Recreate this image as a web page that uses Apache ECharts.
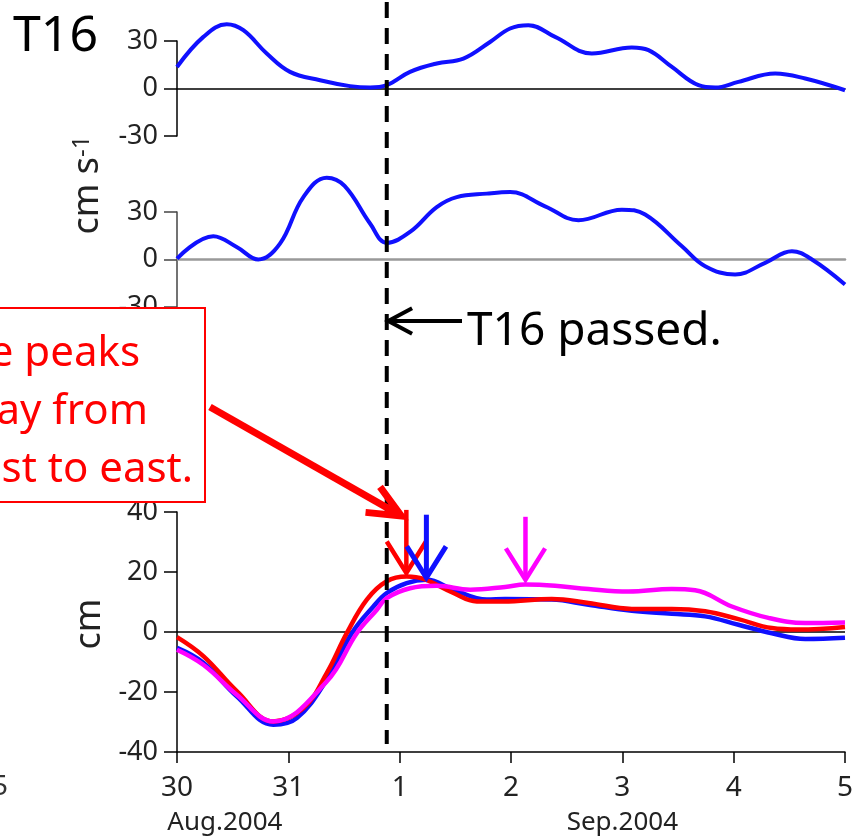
<!DOCTYPE html>
<html><head><meta charset="utf-8">
<script src="https://cdn.jsdelivr.net/npm/echarts@6/dist/echarts.min.js"></script>
<style>html,body{margin:0;padding:0;background:#fff}#c{width:864px;height:840px}</style>
</head><body><div id="c"></div>
<script>
// ---------- data ----------
const xTickLabels = ['30','31','1','2','3','4','5'];
const monthLabels = ['Aug.2004','Sep.2004'];

// top panel (cm s-1), days since Aug 30 00:00
const uDays = [0,0.237,0.447,0.596,0.806,1.015,1.285,1.554,1.734,1.884,2.093,2.333,2.572,2.812,2.992,3.156,3.396,3.726,4.085,4.235,4.445,4.684,4.834,5.043,5.373,5.643,6.0];
const uVals = [13.6,32.6,40.6,36.8,22.1,10.5,5.2,1.5,0.6,2.1,10.5,15.8,18.9,29.4,37.9,40,32.6,22.1,25.9,24.2,13.6,2.1,0.6,4.2,9.5,6.3,-1.1];

// middle panel (cm s-1)
const vDays = [0,0.326,0.536,0.730,0.925,1.135,1.345,1.505,1.734,1.884,2.093,2.333,2.513,2.783,2.992,3.306,3.606,3.996,4.205,4.535,4.744,5.013,5.283,5.523,5.703,6.0];
const vVals = [0.6,14.7,7.9,0,10,39.4,51.7,46.5,22.7,10.5,17.4,33.1,39.4,41.6,42.6,33.6,24.8,31.5,28.4,8.4,-4.2,-9.5,-2.1,5.2,0,-15.8];

// bottom panel (cm)
const redDays = [0,0.239,0.539,0.865,1.135,1.345,1.525,1.705,1.884,2.063,2.213,2.483,2.693,2.932,3.366,3.696,4.085,4.445,4.744,5.043,5.343,5.583,6.0];
const redVals = [-1.7,-8.1,-19.8,-29.8,-25.4,-13.7,-0.4,10.8,16.9,18.5,17.7,13,10.2,10.2,11,9.7,7.7,7.7,6.9,4.3,1.3,0.8,1.7];

const blueDays = [0,0.239,0.539,0.865,1.076,1.345,1.570,1.764,1.884,2.063,2.243,2.483,2.783,2.947,3.366,3.696,4.085,4.445,4.744,5.043,5.343,5.643,6.0];
const blueVals = [-5.3,-10.3,-21.5,-30.9,-28.7,-15.9,-0.4,8.5,13,16.3,17.4,14.1,10.8,11,10.8,9.1,7.1,6.1,5.2,2.4,-0.4,-2.3,-1.9];

const magDays = [0,0.239,0.539,0.865,1.345,1.615,1.795,1.884,2.093,2.333,2.633,2.947,3.127,3.396,3.696,4.055,4.445,4.654,4.984,5.312,5.643,6.0];
const magVals = [-5.9,-11,-21,-29.8,-16.5,-0.4,7.4,11.3,14.6,15.4,14.1,15,15.8,15.4,14.3,13.5,14.3,13.9,8.5,4.7,3,3.2];

// peak markers (day, value of arrow tip) : red, blue, magenta
const peakDays = [2.06, 2.24, 3.13];
const peakVals = [19.7, 18.1, 17.4];
const passDay = 1.884;

// ---------- chart ----------
const FONT = 'Noto Sans';
const chart = echarts.init(document.getElementById('c'), null, {renderer:'canvas'});
const pairs = (d, v) => d.map((x, i) => [x, v[i]]);

function yAx(grid, min, max, interval, color) {
  return {gridIndex:grid, type:'value', min, max, interval,
    axisLine:{show:true, onZero:false, lineStyle:{color, width:1.5}},
    axisTick:{show:true, length:13, lineStyle:{color, width:1.5}},
    axisLabel:{show:true, fontSize:27, color:'#222', margin:19, fontFamily:FONT},
    splitLine:{show:false}};
}
function line(name, days, vals, color, idx, width, z) {
  return {type:'line', name, xAxisIndex:idx, yAxisIndex:idx, data:pairs(days, vals),
    smooth:0.4, symbol:'none', clip:false, z,
    lineStyle:{color, width}, emphasis:{disabled:true}};
}

const option = {
  animation:false,
  backgroundColor:'#fff',
  grid:[
    {left:177, right:19, top:41, height:95},
    {left:177, right:19, top:212, height:95},
    {left:177, right:19, top:512, height:240}
  ],
  xAxis:[
    {gridIndex:0, type:'value', min:0, max:6, interval:1,
      axisLine:{show:true, onZero:true, lineStyle:{color:'#000', width:1.5}},
      axisTick:{show:false}, axisLabel:{show:false}, splitLine:{show:false}},
    {gridIndex:1, type:'value', min:0, max:6, interval:1,
      axisLine:{show:true, onZero:true, lineStyle:{color:'#999', width:2.5}},
      axisTick:{show:false}, axisLabel:{show:false}, splitLine:{show:false}},
    {gridIndex:2, type:'value', min:0, max:6, interval:1,
      axisLine:{show:true, onZero:false, lineStyle:{color:'#000', width:1.5}},
      axisTick:{show:true, length:11, inside:false, lineStyle:{color:'#000', width:1.5}},
      axisLabel:{show:true, fontSize:28, color:'#222', margin:22, fontFamily:FONT,
        formatter:v => xTickLabels[Math.round(v)]},
      splitLine:{show:false}}
  ],
  yAxis:[
    yAx(0, -30, 30, 30, '#000'),
    yAx(1, -30, 30, 30, '#444'),
    yAx(2, -40, 40, 20, '#000')
  ],
  series:[
    line('u', uDays, uVals, '#1010ff', 0, 4, 3),
    line('v', vDays, vVals, '#1010ff', 1, 4, 3),
    Object.assign(line('blue', blueDays, blueVals, '#1010ff', 2, 4.5, 3), {
      markLine:{silent:true, symbol:'none', label:{show:false},
        lineStyle:{color:'#000', width:1.5, type:'solid'}, data:[{yAxis:0}], z:1}
    }),
    line('red', redDays, redVals, '#ff0000', 2, 4.5, 4),
    line('magenta', magDays, magVals, '#ff00ff', 2, 4.5, 5)
  ]
};
chart.setOption(option);

// ---------- annotations ----------
function arrowEls(x1, y1, x2, y2, color, w, headLen, headDeg) {
  const ang = Math.atan2(y2 - y1, x2 - x1);
  const h = headDeg * Math.PI / 180;
  const p1 = [x2 + headLen * Math.cos(ang + Math.PI - h), y2 + headLen * Math.sin(ang + Math.PI - h)];
  const p2 = [x2 + headLen * Math.cos(ang + Math.PI + h), y2 + headLen * Math.sin(ang + Math.PI + h)];
  return [
    {type:'line', z:100, shape:{x1, y1, x2, y2}, style:{stroke:color, lineWidth:w}},
    {type:'polyline', z:100, shape:{points:[p1, [x2, y2], p2]}, style:{stroke:color, lineWidth:w, fill:null}}
  ];
}
const px = (idx, d, v) => chart.convertToPixel({xAxisIndex:idx, yAxisIndex:idx}, [d, v]);

const g = [];
const passX = px(2, passDay, 0)[0];
// dashed passage line
g.push({type:'line', z:90, shape:{x1:passX, y1:2, x2:passX, y2:744},
  style:{stroke:'#000', lineWidth:4, lineDash:[16, 10]}});

// peak arrows
const peakColors = ['#ff0000', '#1010ff', '#ff00ff'];
const tips = peakDays.map((d, i) => px(2, d, peakVals[i]));
tips.forEach((t, i) => {
  g.push(...arrowEls(t[0], t[1] - 63, t[0], t[1], peakColors[i], i === 1 ? 5 : 4.5, 37, 32));
});

// T16 passed arrow + text
g.push(...arrowEls(462, 321, passX + 1.5, 321, '#000', 4, 27, 28));
g.push({type:'text', z:100, x:467, y:355,
  style:{text:'T16 passed.', font:'46px "Noto Sans"', fill:'#000', align:'left', verticalAlign:'bottom'}});

// title
g.push({type:'text', z:100, x:13, y:62,
  style:{text:'T16', font:'50px "Noto Sans"', fill:'#000', align:'left', verticalAlign:'bottom'}});

// axis names
g.push({type:'text', z:100, x:88, y:185, rotation:Math.PI/2,
  style:{text:'{a|cm s}{b|-1}', align:'center', verticalAlign:'middle',
    rich:{a:{fontSize:36, fontFamily:FONT, fill:'#222'}, b:{fontSize:24, fontFamily:FONT, fill:'#222', verticalAlign:'top'}}}});
g.push({type:'text', z:100, x:90, y:624, rotation:Math.PI/2,
  style:{text:'cm', font:'36px "Noto Sans"', fill:'#222', align:'center', verticalAlign:'middle'}});

// partial neighbour label at left edge
g.push({type:'text', z:100, x:8, y:787,
  style:{text:'5', font:'28px "Noto Sans"', fill:'#333', align:'right', verticalAlign:'middle'}});

// month labels
const augX = px(2, 0.43, -40)[0], sepX = px(2, 4.0, -40)[0];
g.push({type:'text', z:100, x:augX, y:823,
  style:{text:monthLabels[0], font:'26px "Noto Sans"', fill:'#222', align:'center', verticalAlign:'middle'}});
g.push({type:'text', z:100, x:sepX, y:823,
  style:{text:monthLabels[1], font:'26px "Noto Sans"', fill:'#222', align:'center', verticalAlign:'middle'}});

// callout box
g.push({type:'rect', z:110, shape:{x:-3, y:308, width:208, height:194},
  style:{fill:'#fff', stroke:'#ff0000', lineWidth:2}});
const calloutLines = ['e peaks', 'ay from', 'st to east.'];
const calloutRight = [140, 148, 193];
const calloutBase = [375, 433, 491];
calloutLines.forEach((s, i) => g.push({type:'text', z:111, x:calloutRight[i], y:calloutBase[i],
  style:{text:s, font:'42px "Noto Sans"', fill:'#ff0000', align:'right', verticalAlign:'bottom'}}));

// big red arrow from callout to red peak
g.push(...arrowEls(210, 407, tips[0][0] - 5, tips[0][1] - 57, '#ff0000', 7, 36, 24).map(e => Object.assign(e, {z:112})));

chart.setOption({graphic:{elements:g}});
</script>
</body></html>
